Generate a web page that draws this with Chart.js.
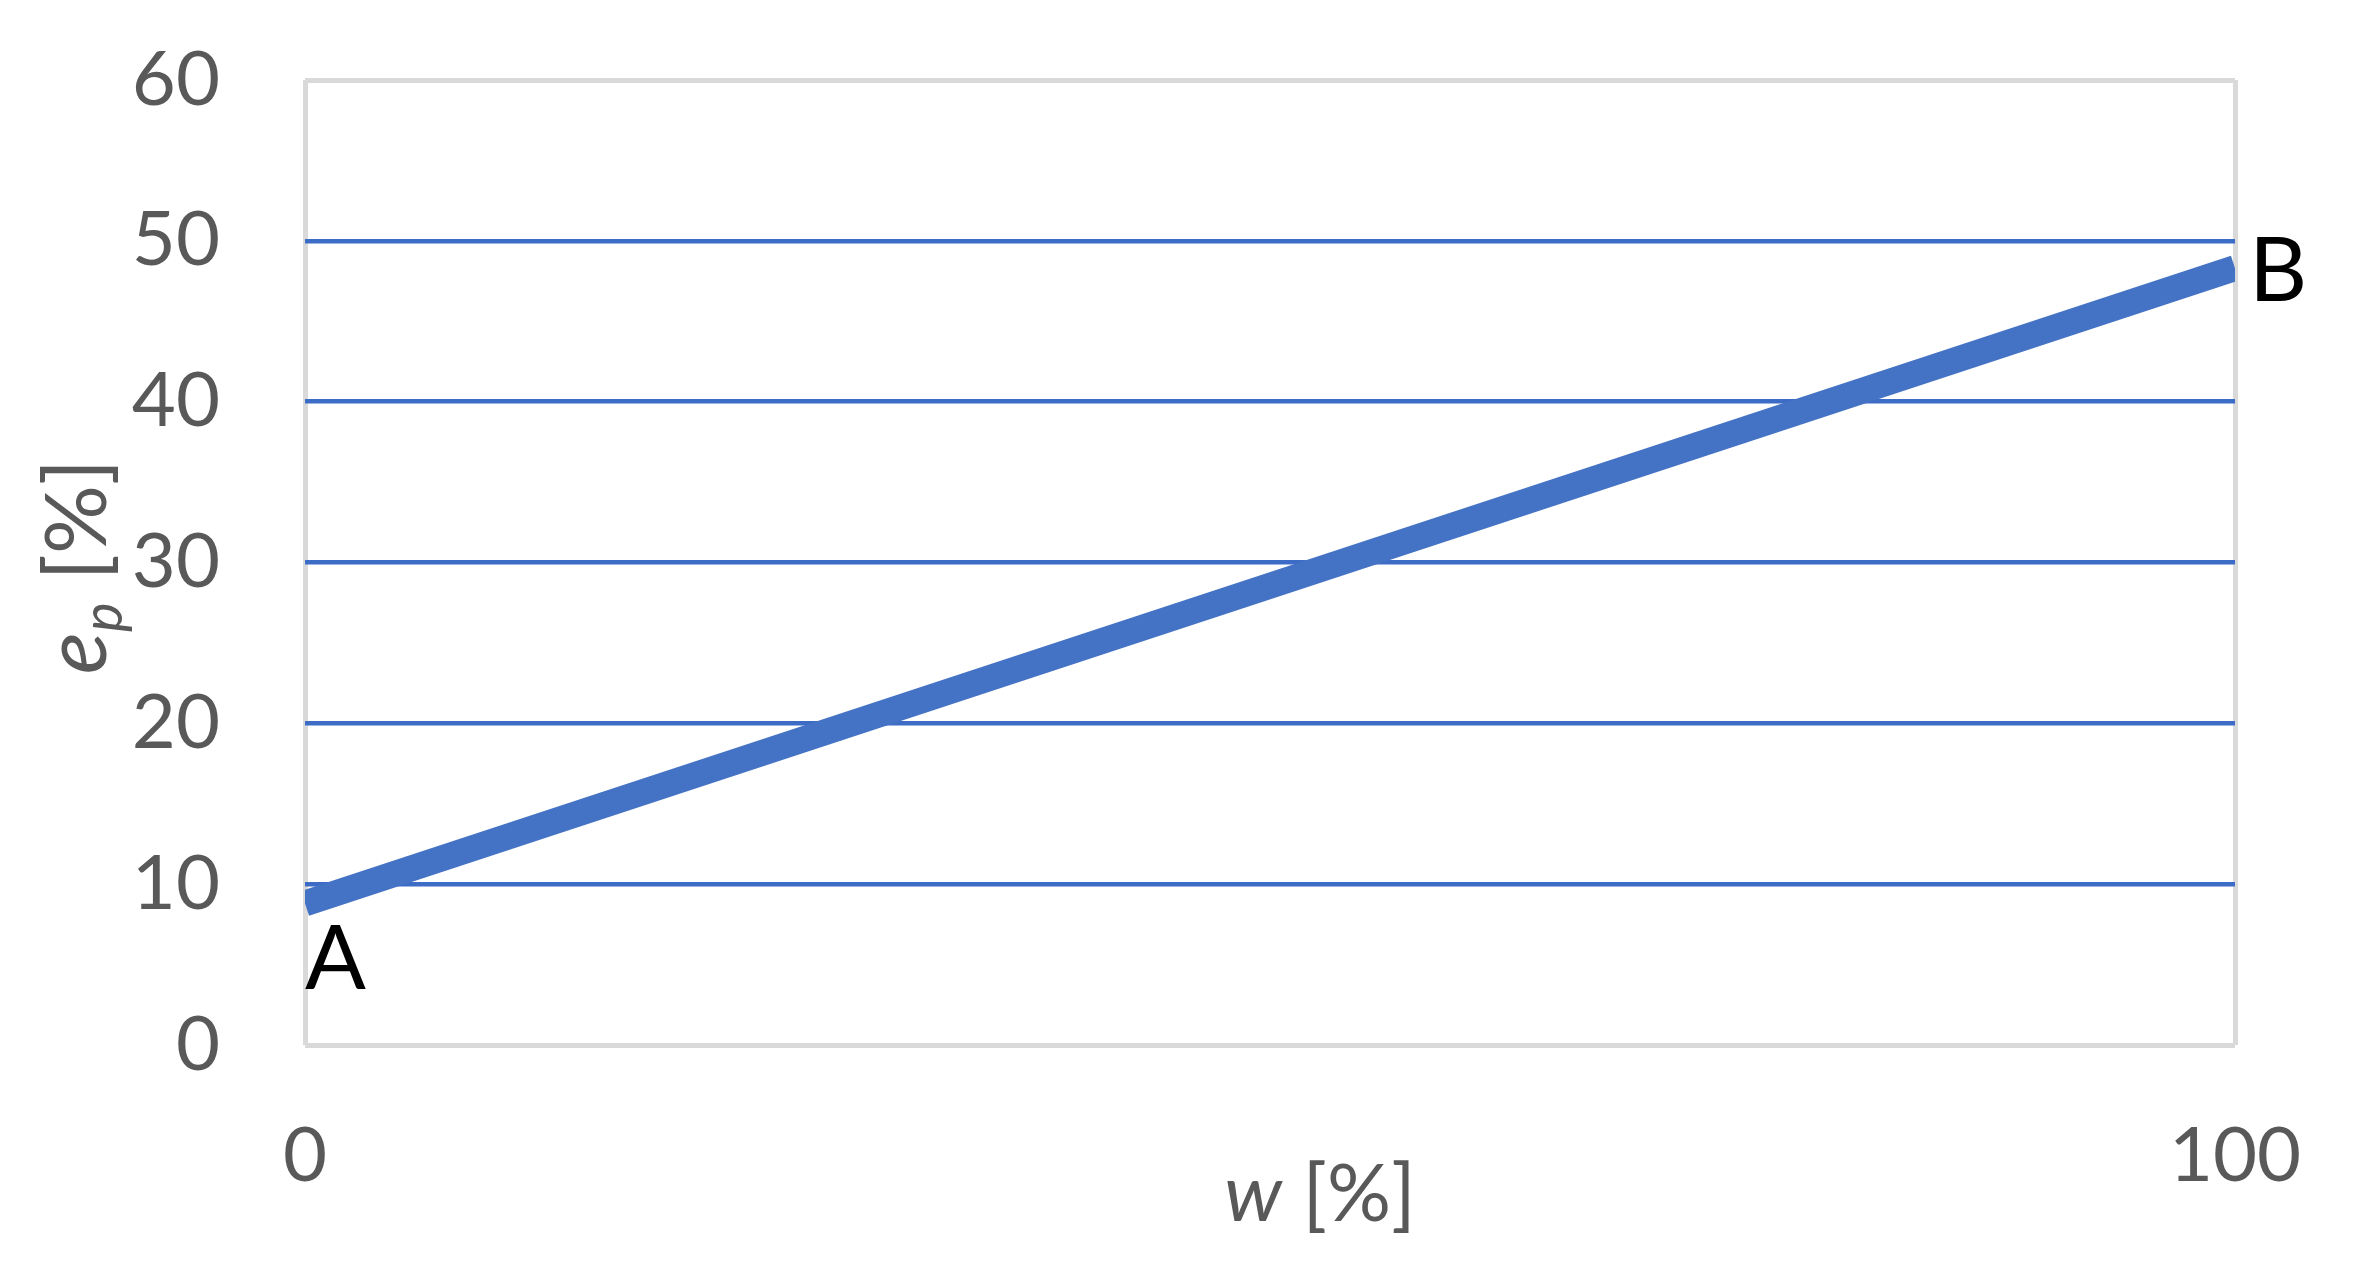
<!DOCTYPE html>
<html><head><meta charset="utf-8">
<script src="https://cdn.jsdelivr.net/npm/chart.js@4"></script>
<style>html,body{margin:0;padding:0;background:#fff}#wrap{width:2371px;height:1271px}</style>
</head><body><div id="wrap"><canvas id="c" width="2371" height="1271"></canvas></div>
<script>
// ---- data ----
const wValues = [0, 100];
const epValues = [8.8, 48.3];
const pointLabels = ['A', 'B'];
const yTickValues = [0, 10, 20, 30, 40, 50, 60];
const xTickValues = [0, 100];
const xTitleParts = ['w', ' [%]'];
const yTitleParts = ['e', 'p', ' [%]'];

const BLUE = '#4472C4';
const GRID = '#3d6cc6';
const FRAME = '#d9d9d9';
const TEXT = '#595959';
const FONT = 'Lato, "Open Sans", sans-serif';

const labelPlugin = {
  id: 'labels',
  afterDatasetsDraw(chart) {
    const ctx = chart.ctx;
    const meta = chart.getDatasetMeta(0);
    ctx.save();
    ctx.fillStyle = '#000';
    ctx.font = '90px ' + FONT;
    ctx.textAlign = 'left';
    ctx.textBaseline = 'alphabetic';
    meta.data.forEach((pt, i) => {
      const off = i === 0 ? {dx: 0, dy: 86} : {dx: 14, dy: 33};
      ctx.fillText(pointLabels[i], pt.x + off.dx, pt.y + off.dy);
    });
    ctx.restore();
  },
  afterDraw(chart) {
    const ctx = chart.ctx;
    const ca = chart.chartArea;
    ctx.save();
    ctx.fillStyle = TEXT;
    ctx.textBaseline = 'alphabetic';
    // x title
    const fi = 'italic 80px ' + FONT, fn = '80px ' + FONT;
    ctx.font = fi; const w1 = ctx.measureText(xTitleParts[0]).width;
    ctx.font = fn; const w2 = ctx.measureText(xTitleParts[1]).width;
    let x0 = (ca.left + ca.right) / 2 + 50 - (w1 + w2) / 2;
    const by = ca.bottom + 176;
    ctx.textAlign = 'left';
    ctx.font = fi; ctx.fillText(xTitleParts[0], x0, by);
    ctx.font = fn; ctx.fillText(xTitleParts[1], x0 + w1, by);
    // y title (rotated)
    const gi = 'italic 88px ' + FONT, gn = '86px ' + FONT;
    const fs = 'italic 56px ' + FONT;
    ctx.font = gi; const a1 = ctx.measureText(yTitleParts[0]).width;
    ctx.font = fs; const a2 = ctx.measureText(yTitleParts[1]).width;
    ctx.font = gn; const a3 = ctx.measureText(yTitleParts[2]).width;
    const tot = a1 + a2 + a3;
    ctx.translate(106, (ca.top + ca.bottom) / 2 + 4);
    ctx.rotate(-Math.PI / 2);
    let sx = -tot / 2;
    ctx.font = gi; ctx.fillText(yTitleParts[0], sx, 0); sx += a1;
    ctx.font = fs; ctx.fillText(yTitleParts[1], sx, 16); sx += a2;
    ctx.font = gn; ctx.fillText(yTitleParts[2], sx, 0);
    ctx.restore();
  }
};

new Chart(document.getElementById('c'), {
  type: 'scatter',
  data: {
    datasets: [{
      data: wValues.map((w, i) => ({x: w, y: epValues[i]})),
      showLine: true,
      borderColor: BLUE,
      backgroundColor: BLUE,
      borderWidth: 26,
      borderCapStyle: 'butt',
      pointRadius: 0,
      pointHoverRadius: 0
    }]
  },
  options: {
    responsive: false,
    animation: false,
    devicePixelRatio: 1,
    layout: {padding: {left: 0, top: 80, right: 136, bottom: 0}},
    plugins: {legend: {display: false}, tooltip: {enabled: false}},
    events: [],
    scales: {
      x: {
        type: 'linear',
        min: 0, max: 100,
        afterBuildTicks: s => { s.ticks = xTickValues.map(v => ({value: v})); },
        afterFit: s => { s.height = 226; s.paddingLeft = 0; s.paddingRight = 0; },
        border: {display: false},
        grid: {
          drawTicks: false,
          color: FRAME,
          lineWidth: 5
        },
        ticks: {color: TEXT, font: {family: FONT, size: 76}, padding: 66, maxRotation: 0}
      },
      y: {
        type: 'linear',
        min: 0, max: 60,
        afterBuildTicks: s => { s.ticks = yTickValues.map(v => ({value: v})); },
        afterFit: s => { s.width = 305; s.paddingTop = 0; s.paddingBottom = 0; },
        border: {display: false},
        grid: {
          drawTicks: false,
          color: c => (c.tick && (c.tick.value === 0 || c.tick.value === 60)) ? FRAME : GRID,
          lineWidth: c => (c.tick && (c.tick.value === 0 || c.tick.value === 60)) ? 5 : 4.5
        },
        ticks: {color: TEXT, font: {family: FONT, size: 76}, padding: 85}
      }
    }
  },
  plugins: [labelPlugin]
});
</script>
</body></html>
